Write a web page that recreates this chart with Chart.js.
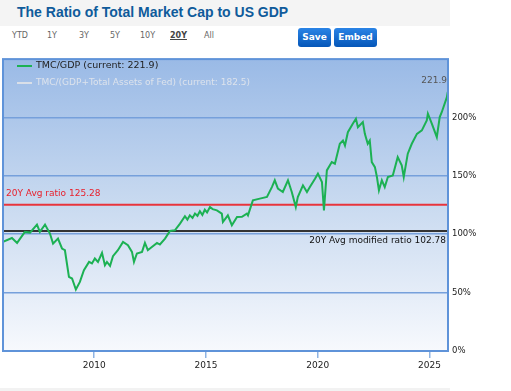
<!DOCTYPE html>
<html>
<head>
<meta charset="utf-8">
<script src="https://cdn.jsdelivr.net/npm/chart.js@4.4.1/dist/chart.umd.min.js"></script>
<style>
  html, body { margin: 0; padding: 0; background: #fff; width: 511px; height: 391px; overflow: hidden; }
  body { position: relative; font-family: "DejaVu Sans", sans-serif; }
  #titlebar { position: absolute; left: 0; top: 0; width: 450px; height: 26px; background: #f4f4f4; }
  #title { position: absolute; left: 17px; top: 4px; font: bold 14px "Liberation Sans", Arial, sans-serif; color: #0f5b9b; white-space: nowrap; }
  .rng { position: absolute; top: 31px; font-size: 8px; color: #666; }
  .rng.on { color: #444; font-weight: bold; text-decoration: underline; }
  .btn { position: absolute; top: 28px; height: 19px; border-radius: 3px; color: #fff; font: bold 9px "DejaVu Sans", sans-serif; line-height: 19px; text-align: center;
         background: linear-gradient(#2a84e6, #0556b8); }
  #bottomband { position: absolute; left: 0; top: 388px; width: 450px; height: 3px; background: #f2f2f2; }
  #wrap { position: absolute; left: 0; top: 50px; width: 511px; height: 335px; }
</style>
</head>
<body>
<div id="titlebar"></div>
<div id="title">The Ratio of Total Market Cap to US GDP</div>
<span class="rng" style="left:12px">YTD</span>
<span class="rng" style="left:47px">1Y</span>
<span class="rng" style="left:79px">3Y</span>
<span class="rng" style="left:110px">5Y</span>
<span class="rng" style="left:140px">10Y</span>
<span class="rng on" style="left:170px">20Y</span>
<span class="rng" style="left:204px">All</span>
<div class="btn" style="left:298px;width:33px">Save</div>
<div class="btn" style="left:334px;width:43px">Embed</div>
<div id="bottomband"></div>
<div id="wrap"><canvas id="c" width="511" height="335"></canvas></div>
<script>
// dates as decimal years, TMC/GDP ratio in %
const years = [
  2005.92, 2006.32, 2006.55, 2006.90, 2007.13, 2007.44, 2007.57, 2007.80, 2008.02, 2008.16,
  2008.38, 2008.56, 2008.69, 2008.87, 2009.01, 2009.18, 2009.36, 2009.54, 2009.77, 2009.90,
  2010.03, 2010.17, 2010.35, 2010.48, 2010.57, 2010.71, 2010.84, 2011.06, 2011.29, 2011.51,
  2011.69, 2011.78, 2011.91, 2012.14, 2012.27, 2012.40, 2012.58, 2012.81, 2012.94, 2013.17,
  2013.39, 2013.61, 2013.84, 2014.06, 2014.17, 2014.28, 2014.40, 2014.51, 2014.62, 2014.73,
  2014.84, 2014.95, 2015.05, 2015.18, 2015.30, 2015.49, 2015.71, 2015.76, 2015.98, 2016.16,
  2016.39, 2016.61, 2016.83, 2016.88, 2017.10, 2017.41, 2017.73, 2017.95, 2018.08, 2018.22,
  2018.44, 2018.67, 2018.84, 2019.02, 2019.11, 2019.34, 2019.52, 2019.65, 2019.88, 2020.01,
  2020.19, 2020.28, 2020.41, 2020.63, 2020.77, 2020.99, 2021.13, 2021.22, 2021.35, 2021.57,
  2021.71, 2021.80, 2022.02, 2022.11, 2022.24, 2022.33, 2022.42, 2022.56, 2022.65, 2022.74,
  2022.87, 2023.00, 2023.14, 2023.36, 2023.58, 2023.76, 2023.85, 2024.03, 2024.21, 2024.44,
  2024.66, 2024.88, 2024.93, 2025.11, 2025.33, 2025.46, 2025.55, 2025.78, 2025.82
];
const tmcGdp = [
  93.4, 96.8, 92.6, 102.0, 101.4, 108.3, 102.0, 108.3, 100.6, 92.0,
  96.3, 87.8, 86.3, 63.5, 62.1, 52.7, 59.2, 69.2, 76.3, 75.0,
  79.2, 76.3, 84.0, 73.5, 76.3, 72.9, 81.2, 86.3, 93.4, 90.6,
  84.9, 76.3, 83.5, 84.9, 92.6, 86.3, 89.1, 92.6, 91.2, 96.3,
  102.8, 103.4, 109.1, 115.4, 112.5, 116.2, 114.0, 117.7, 115.8, 119.7,
  116.5, 121.0, 118.6, 123.3, 121.5, 120.5, 117.7, 110.5, 116.2, 107.7,
  114.8, 115.0, 117.7, 116.2, 129.0, 130.5, 131.9, 140.4, 146.2, 139.0,
  136.2, 146.2, 136.2, 123.3, 131.9, 141.9, 136.2, 140.4, 147.6, 151.9,
  144.7, 120.5, 154.7, 161.8, 160.4, 177.5, 180.3, 176.0, 187.4, 194.6,
  198.9, 191.7, 196.0, 186.0, 177.5, 180.3, 161.8, 157.5, 149.0, 137.6,
  146.2, 140.4, 149.0, 150.4, 166.0, 159.0, 149.0, 169.0, 177.5, 186.0,
  188.9, 197.4, 203.2, 194.6, 183.2, 200.3, 204.5, 217.4, 221.9
];
const xTicks = [2010, 2015, 2020, 2025];
const yTicks = [0, 50, 100, 150, 200];
const avgRatio = 125.28;
const avgModified = 102.78;
const current = 221.9;
const currentModified = 182.5;
const xMin = 2005.92, xMax = 2025.83, yMax = 250;

const flat = v => [{ x: xMin, y: v }, { x: xMax, y: v }];

const decor = {
  id: 'decor',
  beforeDraw(chart) {
    const { ctx, chartArea: a } = chart;
    const g = ctx.createLinearGradient(0, a.top, 0, a.bottom);
    g.addColorStop(0, '#9abae6');
    g.addColorStop(0.5, '#c9daf0');
    g.addColorStop(1, '#f7f9fd');
    ctx.save();
    ctx.fillStyle = g;
    ctx.fillRect(a.left, a.top, a.right - a.left, a.bottom - a.top);
    ctx.restore();
  },
  afterDraw(chart) {
    const { ctx, chartArea: a, scales } = chart;
    const ys = scales.y;
    ctx.save();
    // frame
    ctx.strokeStyle = '#5f93d9';
    ctx.lineWidth = 2;
    ctx.strokeRect(a.left, a.top, a.right - a.left, a.bottom - a.top);
    // legend
    ctx.lineWidth = 2;
    ctx.strokeStyle = '#1cb153';
    ctx.beginPath(); ctx.moveTo(17, 16); ctx.lineTo(32, 16); ctx.stroke();
    ctx.strokeStyle = '#d9dfe8';
    ctx.beginPath(); ctx.moveTo(17, 33); ctx.lineTo(32, 33); ctx.stroke();
    ctx.textBaseline = 'middle';
    ctx.textAlign = 'left';
    ctx.font = '9.5px "DejaVu Sans"';
    ctx.fillStyle = '#222';
    ctx.fillText('TMC/GDP (current: ' + current + ')', 36, 16);
    ctx.font = '9px "DejaVu Sans"';
    ctx.fillStyle = '#dde3ec';
    ctx.fillText('TMC/(GDP+Total Assets of Fed) (current: ' + currentModified + ')', 36, 33);
    // current value
    ctx.textAlign = 'right';
    ctx.font = '9px "DejaVu Sans"';
    ctx.fillStyle = '#555';
    ctx.fillText(current.toFixed(1), a.right - 1, 31);
    // average labels
    ctx.font = '9px "DejaVu Sans"';
    ctx.textAlign = 'left';
    ctx.fillStyle = '#e8202c';
    ctx.fillText('20Y Avg ratio ' + avgRatio, a.left + 3, ys.getPixelForValue(avgRatio) - 11);
    ctx.textAlign = 'right';
    ctx.fillStyle = '#111';
    ctx.fillText('20Y Avg modified ratio ' + avgModified, a.right - 2, ys.getPixelForValue(avgModified) + 10);
    ctx.restore();
  }
};

new Chart(document.getElementById('c'), {
  type: 'line',
  data: {
    datasets: [
      { label: 'TMC/GDP', data: years.map((x, i) => ({ x, y: tmcGdp[i] })), borderColor: '#1cb153', borderWidth: 2, pointRadius: 0, tension: 0, order: 0 },
      { label: 'avg', data: flat(avgRatio), borderColor: '#e8343c', borderWidth: 2, pointRadius: 0, order: 1 },
      { label: 'avg modified', data: flat(avgModified), borderColor: '#333', borderWidth: 2, pointRadius: 0, order: 1 }
    ]
  },
  options: {
    responsive: false,
    animation: false,
    events: [],
    layout: { padding: { left: 3, top: 8, right: 0, bottom: 0 } },
    plugins: { legend: { display: false }, tooltip: { enabled: false } },
    scales: {
      x: {
        type: 'linear', min: xMin, max: xMax,
        afterBuildTicks: s => { s.ticks = xTicks.map(v => ({ value: v })); },
        afterFit: s => { s.height = 34; },
        grid: { drawOnChartArea: false, drawTicks: true, tickLength: 7, color: '#8fb4e3', lineWidth: 1.5 },
        border: { display: false },
        ticks: { callback: v => String(v), color: '#222', padding: 2, font: { family: 'DejaVu Sans', size: 9 }, maxRotation: 0 }
      },
      y: {
        position: 'right', min: 0, max: yMax,
        afterBuildTicks: s => { s.ticks = yTicks.map(v => ({ value: v })); },
        afterFit: s => { s.width = 63; },
        grid: { drawTicks: false, color: c => (c.tick.value === 0 ? 'rgba(0,0,0,0)' : '#76a0db'), lineWidth: 1.5 },
        border: { display: false },
        ticks: { callback: v => v + '%', color: '#222', padding: 4, font: { family: 'DejaVu Sans', size: 8.5 } }
      }
    }
  },
  plugins: [decor]
});
</script>
</body>
</html>
